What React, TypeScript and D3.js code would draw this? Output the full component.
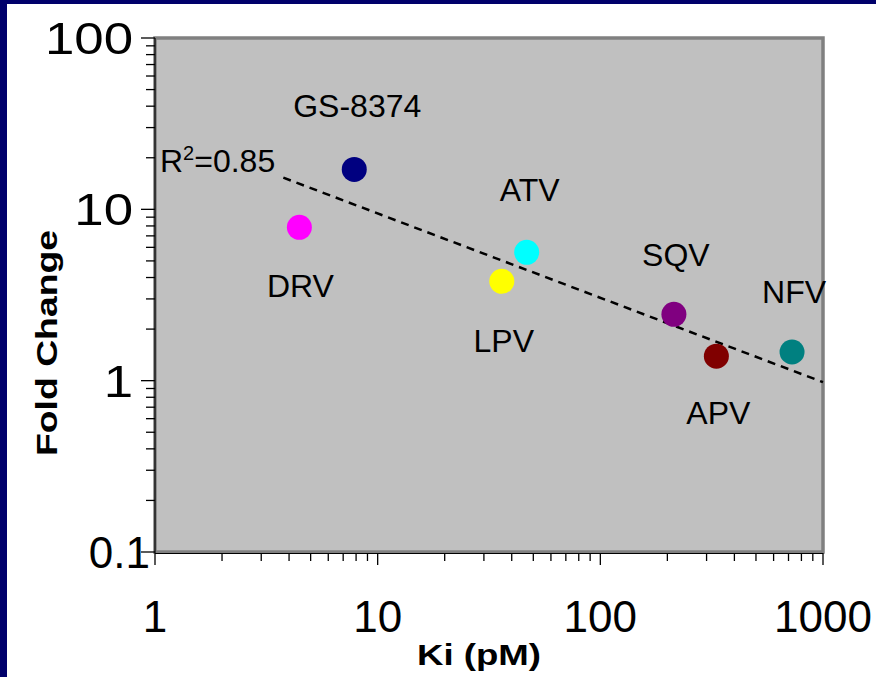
import React from 'react';
import * as d3 from 'd3';

// drug names and values (Ki in pM, fold change)
const drugs = ['GS-8374', 'DRV', 'ATV', 'LPV', 'SQV', 'APV', 'NFV'];
const kiValues = [7.85, 4.45, 46.7, 36.1, 214, 332, 726];
const foldChange = [17.1, 7.85, 5.61, 3.8, 2.44, 1.39, 1.47];
const dotColors = ['#000080', '#FF00FF', '#00FFFF', '#FFFF00', '#800080', '#800000', '#008080'];

// label offsets from each dot, in pixels
const labelDx = [3, 1, 3, 2, 2, 2, 2];
const labelDy = [-52, 70, -51, 71, -48, 68, -49];

// dashed regression line end points
const trendKi = [3.77, 1000];
const trendFold = [15.3, 0.98];

const xTickLabels = [1, 10, 100, 1000];
const yTickLabels = [0.1, 1, 10, 100];

const W = 894;
const H = 677;
const margin = { left: 155, right: 71, top: 38, bottom: 125 };
const font = '"Liberation Sans", Arial, Helvetica, sans-serif';

export default function App() {
  const x = d3.scaleLog().domain([1, 1000]).range([margin.left, W - margin.right]);
  const y = d3.scaleLog().domain([0.1, 100]).range([H - margin.bottom, margin.top]);
  const [x0, x1] = x.range();
  const [yb, yt] = y.range();

  const isMajor = (v: number) => Math.abs(Math.log10(v) - Math.round(Math.log10(v))) < 1e-9;

  const trend = d3
    .line<number>()
    .x((_, i) => x(trendKi[i]))
    .y((_, i) => y(trendFold[i]));

  return (
    <svg
      width={W}
      height={H}
      style={{ position: 'absolute', left: 0, top: 0, background: '#fff' }}
      fontFamily={font}
    >
      {/* navy slide frame */}
      <rect x={0} y={0} width={876} height={4} fill="#00006B" />
      <rect x={0} y={0} width={7} height={H} fill="#00006B" />

      {/* plot area */}
      <rect x={x0} y={yt} width={x1 - x0} height={yb - yt} fill="#C0C0C0" stroke="#808080" strokeWidth={3.5} />
      <line x1={x0} x2={x0} y1={yt} y2={yb + 1} stroke="#000" strokeWidth={1.2} />
      <line x1={x0} x2={x1} y1={yb + 1.5} y2={yb + 1.5} stroke="#000" strokeWidth={1.2} />

      {/* y ticks */}
      {y.ticks().map((v) => (
        <line
          key={'y' + v}
          x1={isMajor(v) ? x0 - 14 : x0 - 9}
          x2={x0}
          y1={y(v)}
          y2={y(v)}
          stroke="#000"
          strokeWidth={1.3}
        />
      ))}
      {yTickLabels.map((v) => (
        // y labels are drawn a bit wider than the x ones in the original, except 0.1
        <g
          key={'yl' + v}
          transform={
            v === 0.1 ? `translate(150, ${y(v) + 16})` : `translate(133, ${y(v) + 16}) scale(1.2, 1)`
          }
        >
          <text textAnchor="end" fontSize={44} fill="#000">
            {v}
          </text>
        </g>
      ))}

      {/* x ticks */}
      {x.ticks().map((v) => (
        <line
          key={'x' + v}
          x1={x(v)}
          x2={x(v)}
          y1={yb + 1}
          y2={isMajor(v) ? yb + 13 : yb + 9}
          stroke="#000"
          strokeWidth={1.3}
        />
      ))}
      {xTickLabels.map((v) => (
        <text key={'xl' + v} x={x(v)} y={632} textAnchor="middle" fontSize={44} fill="#000">
          {v}
        </text>
      ))}

      {/* axis titles */}
      <text
        transform="translate(57, 343) rotate(-90)"
        textAnchor="middle"
        fontSize={30}
        fontWeight="bold"
        textLength={226}
        lengthAdjust="spacingAndGlyphs"
      >
        Fold Change
      </text>
      <text
        x={479}
        y={665}
        textAnchor="middle"
        fontSize={30}
        fontWeight="bold"
        textLength={124}
        lengthAdjust="spacingAndGlyphs"
      >
        Ki (pM)
      </text>

      {/* regression line */}
      <path d={trend(trendKi) || ''} fill="none" stroke="#000" strokeWidth={2.5} strokeDasharray="8,6" />
      <text x={160} y={172} fontSize={32} fill="#000">
        R<tspan fontSize={20} dy={-12}>2</tspan>
        <tspan dy={12}>=0.85</tspan>
      </text>

      {/* drug points */}
      {drugs.map((d, i) => (
        <g key={d}>
          <circle cx={x(kiValues[i])} cy={y(foldChange[i])} r={12.5} fill={dotColors[i]} />
          <text
            x={x(kiValues[i]) + labelDx[i]}
            y={y(foldChange[i]) + labelDy[i]}
            textAnchor="middle"
            fontSize={32}
            fill="#000"
          >
            {d}
          </text>
        </g>
      ))}
    </svg>
  );
}
